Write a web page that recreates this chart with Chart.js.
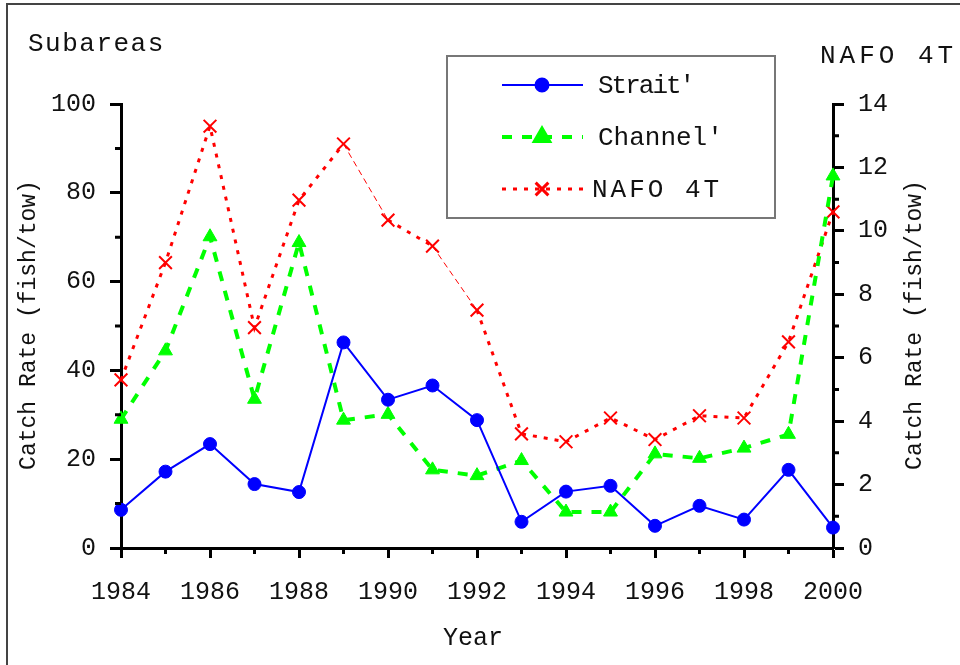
<!DOCTYPE html>
<html>
<head>
<meta charset="utf-8">
<script src="https://cdn.jsdelivr.net/npm/chart.js@4/dist/chart.umd.min.js"></script>
<style>
  html, body { margin: 0; padding: 0; background: #fff; }
  #wrap { width: 960px; height: 665px; position: relative; }
</style>
</head>
<body>
<div id="wrap"><canvas id="catch" width="960" height="665"></canvas></div>
<script>
// data
var years = [1984, 1985, 1986, 1987, 1988, 1989, 1990, 1991, 1992, 1993, 1994, 1995, 1996, 1997, 1998, 1999, 2000];
var strait = [8.6, 17.2, 23.4, 14.4, 12.6, 46.3, 33.4, 36.6, 28.8, 5.9, 12.7, 14.0, 5.0, 9.5, 6.4, 17.6, 4.6];
var channel = [29.0, 44.4, 70.1, 33.5, 68.8, 28.8, 30.1, 17.6, 16.3, 19.7, 8.1, 8.1, 21.2, 20.2, 22.5, 25.6, 83.8];
var nafo4t = [5.3, 9.0, 13.3, 6.95, 10.97, 12.74, 10.34, 9.52, 7.5, 3.6, 3.35, 4.1, 3.42, 4.17, 4.1, 6.5, 10.6];
var seriesNames = ["Strait'", "Channel'", "NAFO 4T"];
var leftTicks = [0, 20, 40, 60, 80, 100];
var rightTicks = [0, 2, 4, 6, 8, 10, 12, 14];

var FONT = "'Liberation Mono', 'Courier New', monospace";

function pts(vals) {
    return years.map(function (yr, i) { return { x: yr, y: vals[i] }; });
}

// minor ticks, titles, legend and frame
var extras = {
    id: 'extras',
    afterDraw: function (chart) {
        var ctx = chart.ctx;
        var xs = chart.scales.x, yl = chart.scales.y, yr = chart.scales.y2;
        var ca = chart.chartArea;
        ctx.save();
        ctx.strokeStyle = '#000';
        ctx.lineWidth = 3;
        ctx.beginPath();
        for (var v = 10; v < 100; v += 20) {
            var py = yl.getPixelForValue(v);
            ctx.moveTo(ca.left - 6, py); ctx.lineTo(ca.left, py);
        }
        for (var w = 1; w < 14; w += 2) {
            var qy = yr.getPixelForValue(w);
            ctx.moveTo(ca.right, qy); ctx.lineTo(ca.right + 6, qy);
        }
        for (var yy = 1985; yy < 2000; yy += 2) {
            var px = xs.getPixelForValue(yy);
            ctx.moveTo(px, ca.bottom); ctx.lineTo(px, ca.bottom + 6);
        }
        ctx.stroke();

        // frame
        ctx.strokeStyle = '#444';
        ctx.lineWidth = 2;
        ctx.beginPath();
        ctx.moveTo(7, 665); ctx.lineTo(7, 4); ctx.lineTo(960, 4);
        ctx.stroke();

        // texts
        ctx.fillStyle = '#111';
        ctx.font = '26px ' + FONT;
        ctx.textBaseline = 'alphabetic';
        ctx.textAlign = 'left';
        ctx.letterSpacing = '1.5px';
        ctx.fillText('Subareas', 28, 51);
        ctx.letterSpacing = '4px';
        ctx.fillText('NAFO 4T', 820, 63);
        ctx.letterSpacing = '0px';
        ctx.textAlign = 'center';
        ctx.font = '25px ' + FONT;
        ctx.fillText('Year', 473, 645);

        ctx.font = '23px ' + FONT;
        ctx.textBaseline = 'middle';
        ctx.save();
        ctx.translate(29, 325); ctx.rotate(-Math.PI / 2);
        ctx.fillText('Catch Rate (fish/tow)', 0, 0);
        ctx.restore();
        ctx.save();
        ctx.translate(915, 325); ctx.rotate(-Math.PI / 2);
        ctx.fillText('Catch Rate (fish/tow)', 0, 0);
        ctx.restore();

        // legend
        ctx.strokeStyle = '#777';
        ctx.lineWidth = 2;
        ctx.strokeRect(447, 56, 328, 162);
        var rows = [85, 137, 189];
        var spacing = ['-2px', '0px', '3px'];
        chart.data.datasets.forEach(function (ds, i) {
            var ry = rows[i];
            ctx.save();
            ctx.strokeStyle = ds.borderColor;
            ctx.lineWidth = ds.borderWidth;
            ctx.setLineDash(ds.borderDash || []);
            ctx.beginPath();
            ctx.moveTo(502, ry); ctx.lineTo(583, ry);
            ctx.stroke();
            ctx.setLineDash([]);
            ctx.fillStyle = ds.pointBackgroundColor;
            ctx.strokeStyle = ds.pointBorderColor;
            Chart.helpers.drawPoint(ctx, {
                pointStyle: ds.pointStyle,
                radius: ds.pointRadius,
                rotation: 0,
                borderWidth: ds.pointBorderWidth
            }, 542, ry);
            ctx.restore();
            ctx.fillStyle = '#111';
            ctx.textAlign = 'left';
            ctx.textBaseline = 'middle';
            ctx.font = '26px ' + FONT;
            ctx.letterSpacing = spacing[i];
            ctx.fillText(ds.label, i === 2 ? 592 : 598, ry + 1);
        });
        ctx.restore();
    }
};

var chartEl = document.getElementById('catch').getContext('2d');
var catchChart = new Chart(chartEl, {
    type: 'line',
    data: {
        datasets: [{
            label: seriesNames[0],
            data: pts(strait),
            yAxisID: 'y',
            borderColor: '#0000ff',
            borderWidth: 2,
            pointStyle: 'circle',
            pointRadius: 6.5,
            pointBackgroundColor: '#0000ff',
            pointBorderColor: '#0000ff',
            pointBorderWidth: 1,
            clip: false
        }, {
            label: seriesNames[1],
            data: pts(channel),
            yAxisID: 'y',
            borderColor: '#00ff00',
            borderWidth: 4,
            borderDash: [10, 10],
            pointStyle: 'triangle',
            pointRadius: 8,
            pointBackgroundColor: '#00ff00',
            pointBorderColor: '#00ff00',
            pointBorderWidth: 1,
            clip: false
        }, {
            label: seriesNames[2],
            data: pts(nafo4t),
            yAxisID: 'y2',
            borderColor: '#ff0000',
            borderWidth: 3,
            borderDash: [4, 7],
            pointStyle: 'crossRot',
            pointRadius: 9,
            pointBackgroundColor: '#ff0000',
            pointBorderColor: '#ff0000',
            pointBorderWidth: 2,
            clip: false,
            segment: {
                borderWidth: function (c) { return (c.p0DataIndex === 5 || c.p0DataIndex === 7) ? 1 : undefined; },
                borderDash: function (c) { return (c.p0DataIndex === 5 || c.p0DataIndex === 7) ? [6, 4] : undefined; }
            }
        }]
    },
    options: {
        responsive: false,
        animation: false,
        layout: { padding: { top: 104, left: 0, right: 0, bottom: 0 } },
        plugins: { legend: { display: false }, tooltip: { enabled: false } },
        elements: { line: { tension: 0 } },
        scales: {
            x: {
                type: 'linear',
                min: 1984, max: 2000,
                afterFit: function (s) { s.height = 117; },
                border: { display: true, color: '#000', width: 3 },
                grid: { drawOnChartArea: false, drawTicks: true, tickLength: 10, tickColor: '#000', tickWidth: 3 },
                ticks: {
                    stepSize: 2, padding: 19, color: '#111', maxRotation: 0,
                    font: { family: FONT, size: 25 },
                    callback: function (v) { return String(v); }
                }
            },
            y: {
                position: 'left',
                min: 0, max: 100,
                afterFit: function (s) { s.width = 121; },
                afterBuildTicks: function (s) { s.ticks = leftTicks.map(function (v) { return { value: v }; }); },
                border: { display: true, color: '#000', width: 3 },
                grid: { drawOnChartArea: false, drawTicks: true, tickLength: 11, tickColor: '#000', tickWidth: 3 },
                ticks: { padding: 14, color: '#111', font: { family: FONT, size: 25 } }
            },
            y2: {
                position: 'right',
                min: 0, max: 14,
                afterFit: function (s) { s.width = 127; },
                afterBuildTicks: function (s) { s.ticks = rightTicks.map(function (v) { return { value: v }; }); },
                border: { display: true, color: '#000', width: 3 },
                grid: { drawOnChartArea: false, drawTicks: true, tickLength: 11, tickColor: '#000', tickWidth: 3 },
                ticks: { padding: 14, color: '#111', font: { family: FONT, size: 25 } }
            }
        }
    },
    plugins: [extras]
});
</script>
</body>
</html>
